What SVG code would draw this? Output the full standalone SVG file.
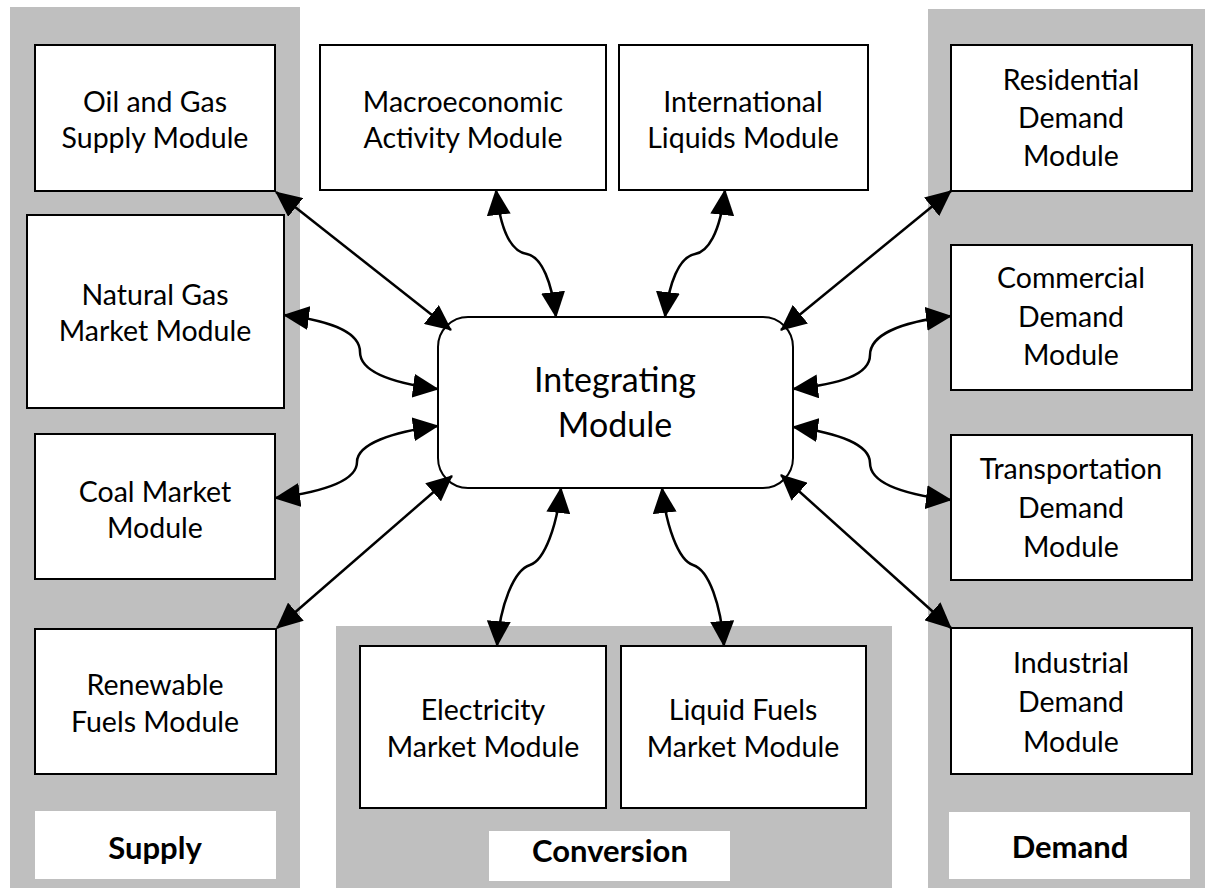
<svg xmlns="http://www.w3.org/2000/svg" width="1205" height="888" viewBox="0 0 1205 888">
<style>
.panel{fill:#BFBFBF;stroke:none}
.box{fill:#fff;stroke:#000;stroke-width:2}
.lbl{fill:#fff;stroke:none}
.t{font-family:Lato,"Liberation Sans",sans-serif;font-size:28.5px;fill:#000;text-anchor:middle}
.b{font-family:Lato,"Liberation Sans",sans-serif;font-size:31px;font-weight:bold;fill:#000;text-anchor:middle}
.big{font-family:Lato,"Liberation Sans",sans-serif;font-size:34px;fill:#000;text-anchor:middle}
.c{fill:none;stroke:#000;stroke-width:2.5;marker-start:url(#ah);marker-end:url(#ah)}
</style>
<defs>
<marker id="ah" markerUnits="userSpaceOnUse" viewBox="0 0 26 24" markerWidth="26" markerHeight="24" refX="25" refY="12" orient="auto-start-reverse">
<path d="M0,0 L26,12 L0,24 z" fill="#000"/>
</marker>
</defs>
<g id="panels">
<rect class="panel" x="10" y="7" width="290" height="881"/>
<rect class="panel" x="336" y="626" width="556" height="262"/>
<rect class="panel" x="928" y="9" width="277" height="879"/>
</g>
<g id="supply-label"><rect class="lbl" x="35" y="811" width="241" height="68"/><text class="b" x="155" y="859">Supply</text></g>
<g id="conversion-label"><rect class="lbl" x="489" y="831" width="241" height="50"/><text class="b" x="610" y="862">Conversion</text></g>
<g id="demand-label"><rect class="lbl" x="949" y="812" width="241" height="67"/><text class="b" x="1070" y="858">Demand</text></g>

<g id="oilgas"><rect class="box" x="35" y="45" width="240" height="146"/><text class="t" x="155" y="112">Oil and Gas</text><text class="t" x="155" y="148">Supply Module</text></g>
<g id="natgas"><rect class="box" x="27" y="215" width="257" height="193"/><text class="t" x="155" y="305">Natural Gas</text><text class="t" x="155" y="341">Market Module</text></g>
<g id="coal"><rect class="box" x="35" y="434" width="240" height="145"/><text class="t" x="155" y="502">Coal Market</text><text class="t" x="155" y="538">Module</text></g>
<g id="renewable"><rect class="box" x="35" y="629" width="241" height="145"/><text class="t" x="155" y="695">Renewable</text><text class="t" x="155" y="732">Fuels Module</text></g>

<g id="macro"><rect class="box" x="320" y="45" width="286" height="145"/><text class="t" x="463" y="112">Macroeconomic</text><text class="t" x="463" y="148">Activity Module</text></g>
<g id="intl"><rect class="box" x="619" y="45" width="249" height="145"/><text class="t" x="743" y="112">International</text><text class="t" x="743" y="148">Liquids Module</text></g>

<g id="residential"><rect class="box" x="951" y="45" width="241" height="146"/><text class="t" x="1071" y="90">Residential</text><text class="t" x="1071" y="128">Demand</text><text class="t" x="1071" y="166">Module</text></g>
<g id="commercial"><rect class="box" x="951" y="245" width="241" height="145"/><text class="t" x="1071" y="288">Commercial</text><text class="t" x="1071" y="327">Demand</text><text class="t" x="1071" y="365">Module</text></g>
<g id="transportation"><rect class="box" x="951" y="435" width="241" height="145"/><text class="t" x="1071" y="479">Transportation</text><text class="t" x="1071" y="518">Demand</text><text class="t" x="1071" y="557">Module</text></g>
<g id="industrial"><rect class="box" x="951" y="628" width="241" height="146"/><text class="t" x="1071" y="673">Industrial</text><text class="t" x="1071" y="712">Demand</text><text class="t" x="1071" y="752">Module</text></g>

<g id="electricity"><rect class="box" x="360" y="646" width="246" height="162"/><text class="t" x="483" y="720">Electricity</text><text class="t" x="483" y="757">Market Module</text></g>
<g id="liquidfuels"><rect class="box" x="621" y="646" width="245" height="162"/><text class="t" x="743" y="720">Liquid Fuels</text><text class="t" x="743" y="757">Market Module</text></g>

<g id="integrating"><rect class="box" x="438" y="317" width="355" height="171" rx="30" ry="30"/><text class="big" x="615" y="392">Integrating</text><text class="big" x="615" y="437">Module</text></g>

<g id="connectors">
<path class="c" d="M276,192 L451,330"/>
<path class="c" d="M284,315 C340,322 360,335 360,352 C360,372 392,383 438,389"/>
<path class="c" d="M275,498 C330,491 357,479 357,462 C357,444 392,432 438,426"/>
<path class="c" d="M277,628 L452,476"/>
<path class="c" d="M496,190 C501,235 513,252 527,254 C542,257 552,283 556,317"/>
<path class="c" d="M725,190 C720,235 707,252 695,254 C679,257 669,283 665,317"/>
<path class="c" d="M951,191 L781,330"/>
<path class="c" d="M951,316 C900,322 870,335 870,355 C870,375 840,384 793,389"/>
<path class="c" d="M793,427 C840,433 870,445 870,463 C870,482 900,494 951,500"/>
<path class="c" d="M951,628 L781,475"/>
<path class="c" d="M561,488 C557,525 545,560 530,565 C514,570 500,605 497,646"/>
<path class="c" d="M662,488 C666,525 678,560 693,565 C709,570 721,605 724,646"/>
</g>
</svg>
